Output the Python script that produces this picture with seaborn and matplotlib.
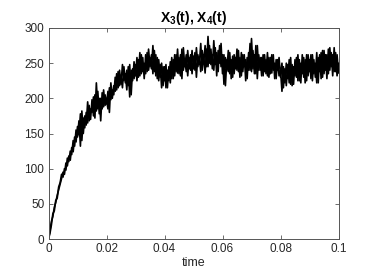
import numpy as np
import pandas as pd
import matplotlib
matplotlib.use('Agg')
import matplotlib.pyplot as plt
import seaborn as sns

# time grid (0 .. 0.1, step 0.0005)
time = np.round(np.arange(0, 201) * 0.0005, 4)

x3 = [0, 12, 25, 32, 45, 52, 62, 70, 78, 86,
      95, 92, 108, 104, 118, 112, 130, 124, 145, 138,
      160, 148, 178, 140, 172, 158, 180, 165, 190, 170,
      198, 175, 205, 182, 210, 178, 200, 185, 212, 190,
      198, 185, 215, 198, 212, 205, 230, 212, 238, 218,
      232, 215, 245, 222, 240, 218, 248, 205, 242, 228,
      248, 225, 255, 232, 262, 238, 250, 235, 265, 240,
      258, 242, 275, 238, 262, 228, 255, 230, 250, 218,
      245, 215, 240, 225, 252, 228, 255, 232, 262, 236,
      258, 232, 270, 240, 255, 238, 268, 242, 262, 235,
      260, 240, 272, 245, 258, 238, 268, 250, 275, 245,
      288, 250, 270, 242, 282, 248, 265, 238, 275, 245,
      262, 220, 258, 240, 268, 235, 255, 230, 262, 242,
      270, 238, 258, 232, 262, 245, 255, 228, 265, 240,
      285, 242, 262, 235, 275, 240, 258, 232, 262, 238,
      255, 232, 258, 235, 262, 240, 250, 228, 255, 232,
      240, 210, 245, 222, 250, 228, 255, 220, 248, 220,
      255, 230, 262, 225, 250, 235, 258, 222, 262, 232,
      255, 228, 262, 235, 250, 222, 258, 238, 265, 230,
      268, 240, 262, 235, 272, 245, 262, 238, 265, 232,
      250]

x4 = [0, 8, 20, 36, 40, 55, 58, 74, 80, 92,
      88, 100, 98, 115, 110, 125, 120, 140, 132, 155,
      145, 168, 132, 182, 150, 175, 162, 195, 168, 185,
      180, 202, 172, 222, 185, 200, 168, 208, 188, 205,
      192, 210, 180, 222, 200, 218, 210, 235, 215, 240,
      220, 248, 225, 235, 212, 245, 202, 240, 225, 252,
      232, 258, 230, 265, 235, 258, 228, 262, 238, 270,
      245, 262, 235, 268, 232, 258, 225, 248, 215, 245,
      225, 248, 215, 245, 222, 258, 228, 262, 238, 270,
      235, 262, 228, 272, 245, 262, 232, 258, 240, 268,
      242, 265, 230, 262, 248, 278, 240, 262, 236, 270,
      245, 275, 248, 262, 240, 272, 232, 268, 250, 278,
      235, 262, 218, 255, 238, 265, 228, 260, 235, 258,
      240, 268, 230, 265, 238, 262, 225, 258, 240, 278,
      238, 268, 235, 275, 228, 262, 240, 258, 232, 262,
      235, 265, 230, 258, 236, 262, 228, 255, 240, 258,
      230, 250, 215, 242, 218, 248, 222, 258, 218, 245,
      232, 258, 225, 255, 222, 262, 230, 255, 225, 262,
      238, 262, 225, 255, 230, 265, 222, 262, 228, 268,
      235, 262, 228, 270, 240, 265, 232, 272, 238, 262,
      236]

df = pd.concat([
    pd.DataFrame({'time': time, 'count': x3, 'species': 'X3'}),
    pd.DataFrame({'time': time, 'count': x4, 'species': 'X4'}),
])

sns.set_style('white')
plt.rcParams['font.family'] = ['Liberation Sans', 'DejaVu Sans']
plt.rcParams['mathtext.fontset'] = 'custom'
plt.rcParams['mathtext.rm'] = 'Liberation Sans'
plt.rcParams['mathtext.bf'] = 'Liberation Sans:bold'

fig = plt.figure(figsize=(3.74, 2.8), dpi=100)
ax = fig.add_axes([0.1297, 0.1464, 0.7754, 0.7536])

sns.lineplot(data=df, x='time', y='count', hue='species',
             palette=['black', 'black'], estimator=None, sort=False,
             legend=False, linewidth=1.2, ax=ax)

ax.set_xlim(0, 0.1)
ax.set_ylim(0, 300)
ax.set_xticks([0, 0.02, 0.04, 0.06, 0.08, 0.1])
ax.set_xticklabels(['0', '0.02', '0.04', '0.06', '0.08', '0.1'])
ax.set_yticks(range(0, 301, 50))

grey = '#262626'
for s in ax.spines.values():
    s.set_color('#555555')
    s.set_linewidth(0.7)
ax.tick_params(direction='in', length=3, width=0.6, colors='#555555',
               labelcolor=grey, labelsize=8.5, top=True, right=True,
               bottom=True, left=True, pad=3)

ax.set_xlabel('time', fontsize=9, color=grey, labelpad=1)
ax.set_ylabel('')
ax.set_title(r'X$_\mathbf{3}$(t), X$_\mathbf{4}$(t)', fontsize=10,
             fontweight='bold', color='black', pad=4)

fig.savefig('out.png', dpi=100)
